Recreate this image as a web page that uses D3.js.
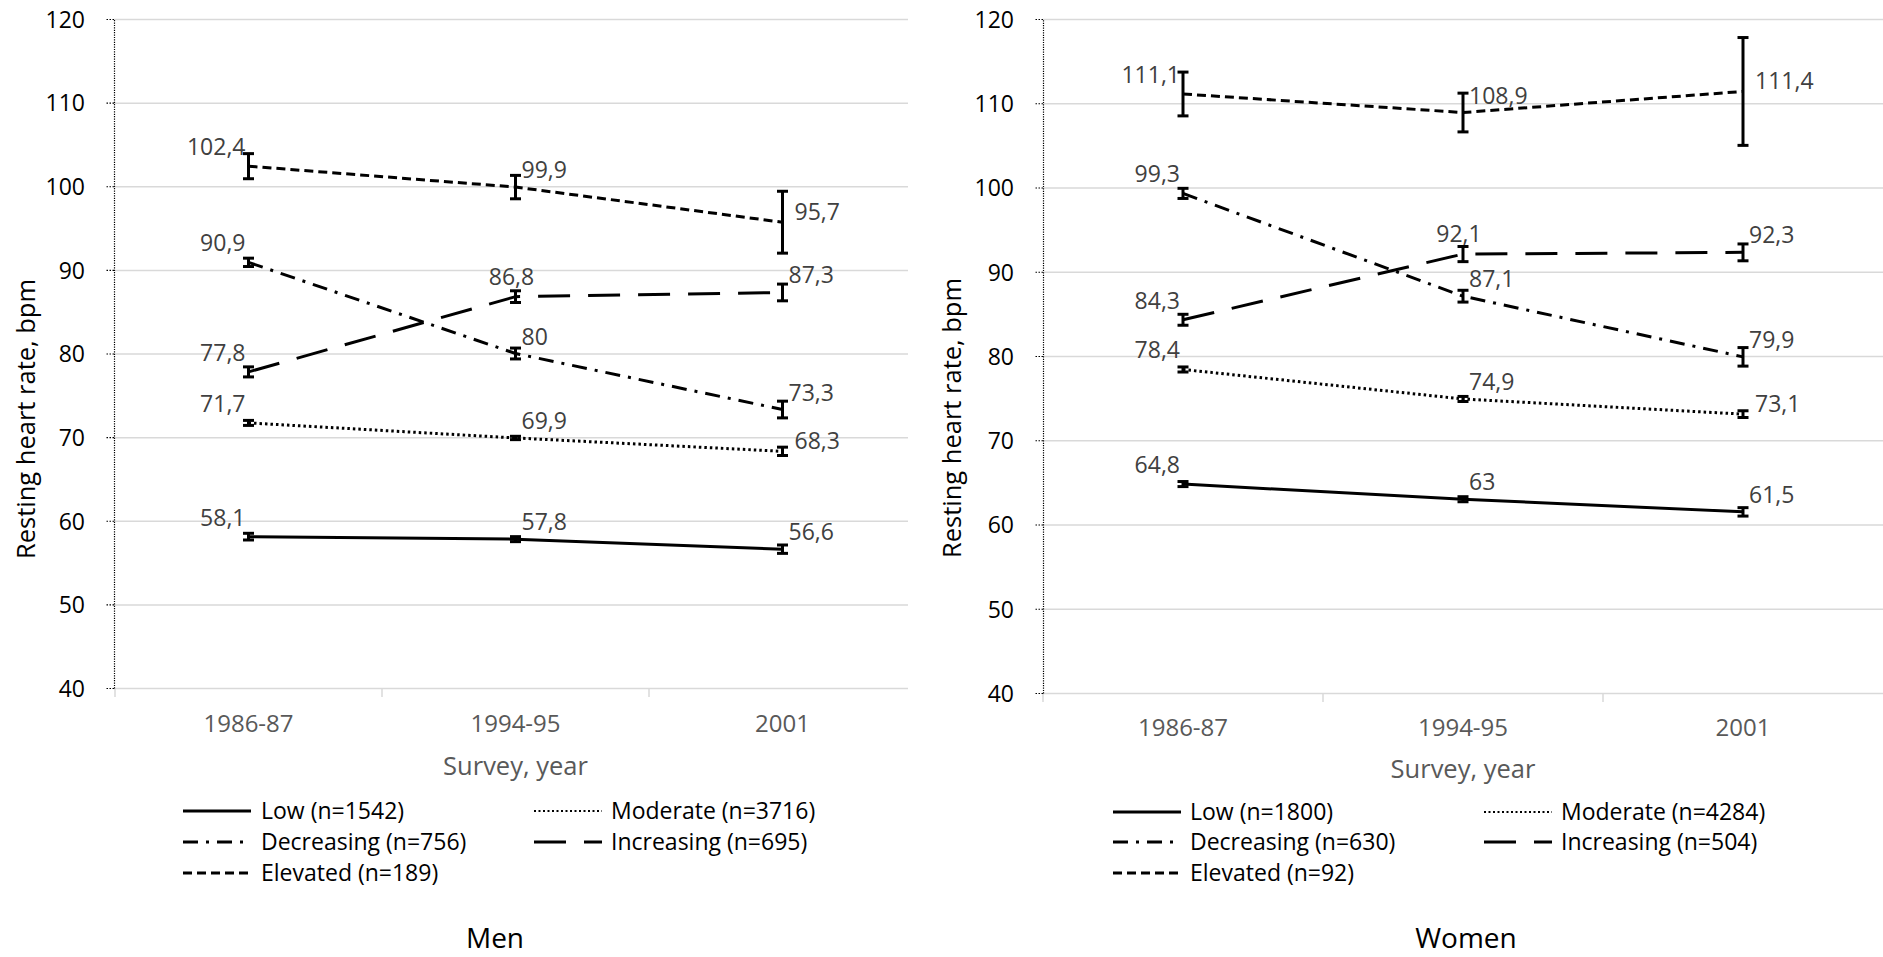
<!DOCTYPE html>
<html>
<head>
<meta charset="utf-8">
<script src="https://cdn.jsdelivr.net/npm/d3@7"></script>
<style>
  body { margin: 0; background: #fff; }
  svg { display: block; }
</style>
</head>
<body>
<div id="chart"></div>
<script>
// categories
const surveys = ["1986-87", "1994-95", "2001"];
const groups = ["Low", "Moderate", "Decreasing", "Increasing", "Elevated"];
const yTicks = [40, 50, 60, 70, 80, 90, 100, 110, 120];

// men
const menN = [1542, 3716, 756, 695, 189];
const menMeans = [
  [58.1, 57.8, 56.6],
  [71.7, 69.9, 68.3],
  [90.9, 80, 73.3],
  [77.8, 86.8, 87.3],
  [102.4, 99.9, 95.7]
];
const menErrors = [
  [0.4, 0.3, 0.5],
  [0.3, 0.2, 0.5],
  [0.5, 0.65, 1.0],
  [0.6, 0.7, 1.0],
  [1.5, 1.4, 3.7]
];
const menLabelPos = [
  ["nw", "ne", "ne"],
  ["nw", "ne", "e"],
  ["nw", "ne", "ne"],
  ["nw", "n", "ne"],
  ["nw", "ne", "e"]
];

// women
const womenN = [1800, 4284, 630, 504, 92];
const womenMeans = [
  [64.8, 63, 61.5],
  [78.4, 74.9, 73.1],
  [99.3, 87.1, 79.9],
  [84.3, 92.1, 92.3],
  [111.1, 108.9, 111.4]
];
const womenErrors = [
  [0.3, 0.3, 0.5],
  [0.3, 0.3, 0.4],
  [0.6, 0.7, 1.1],
  [0.65, 0.9, 1.0],
  [2.6, 2.3, 6.4]
];
const womenLabelPos = [
  ["nw", "ne", "ne"],
  ["nw", "ne", "e"],
  ["nw", "ne", "ne"],
  ["nw", "n", "ne"],
  ["nw", "ne", "e"]
];

const font = "'Open Sans', 'DejaVu Sans', sans-serif";
const dashes = {
  Low: null,
  Moderate: "2.5 3",
  Decreasing: "15 8 3 8",
  Increasing: "32 18",
  Elevated: "9 5"
};
const labelOffsets = {
  nw: { anchor: "end", dx: -3, dy: -11 },
  ne: { anchor: "start", dx: 6, dy: -9 },
  e: { anchor: "start", dx: 12, dy: -2 },
  n: { anchor: "middle", dx: -4, dy: -12 }
};

const width = 1883, height = 957;
const svg = d3.select("#chart").append("svg")
  .attr("width", width)
  .attr("height", height)
  .attr("font-family", font);

function fmt(v) {
  return String(v).replace(".", ",");
}

function drawPanel(p) {
  const x = d3.scaleBand().domain(surveys).range(p.xRange);
  const y = d3.scaleLinear().domain([40, 120]).range(p.yRange);
  const cx = (d) => x(d) + x.bandwidth() / 2;
  const g = svg.append("g");

  // gridlines
  g.append("g")
    .attr("transform", `translate(${p.axisX},0)`)
    .call(d3.axisLeft(y).tickValues(yTicks).tickSize(-(p.gridEnd - p.axisX)).tickFormat(""))
    .call((s) => s.select(".domain").remove())
    .selectAll("line")
    .attr("stroke", "#d9d9d9")
    .attr("stroke-width", 1.5);

  // x category boundary ticks
  const bounds = d3.range(surveys.length).map((i) => p.xRange[0] + i * x.step());
  g.append("g").selectAll("line").data(bounds).join("line")
    .attr("x1", (d) => d).attr("x2", (d) => d)
    .attr("y1", y(40)).attr("y2", y(40) + 9)
    .attr("stroke", "#d9d9d9").attr("stroke-width", 1.5);

  // y axis
  const ya = g.append("g")
    .attr("transform", `translate(${p.axisX},0)`)
    .call(d3.axisLeft(y).tickValues(yTicks).tickSize(8).tickPadding(21).tickSizeOuter(0));
  ya.select(".domain").attr("stroke", "#000").attr("stroke-width", 1.2).attr("stroke-dasharray", "1.2 1.2");
  ya.selectAll(".tick line").attr("stroke", "#000").attr("stroke-width", 1.2).attr("stroke-dasharray", "1.5 1.5");
  ya.selectAll(".tick text")
    .attr("font-family", font).attr("font-size", 23).attr("fill", "#000")
    .attr("dy", "0.36em");

  // x axis labels
  g.append("g").selectAll("text").data(surveys).join("text")
    .attr("x", cx).attr("y", p.catY)
    .attr("text-anchor", "middle")
    .attr("font-size", 24).attr("fill", "#595959")
    .text((d) => d);

  // titles
  g.append("text")
    .attr("transform", `translate(${p.yTitleX},${p.yTitleY}) rotate(-90)`)
    .attr("text-anchor", "middle").attr("dy", "0.35em")
    .attr("font-size", 25.5).attr("fill", "#000")
    .text("Resting heart rate, bpm");
  g.append("text")
    .attr("x", (p.xRange[0] + p.xRange[1]) / 2).attr("y", p.xTitleY)
    .attr("text-anchor", "middle")
    .attr("font-size", 25.5).attr("fill", "#595959")
    .text("Survey, year");
  g.append("text")
    .attr("x", p.titleX).attr("y", p.titleY)
    .attr("text-anchor", "middle")
    .attr("font-size", 28).attr("fill", "#000")
    .text(p.title);

  // series lines
  const line = d3.line()
    .x((d, i) => cx(surveys[i]))
    .y((d) => y(d));
  g.append("g").selectAll("path").data(p.means).join("path")
    .attr("d", line)
    .attr("fill", "none")
    .attr("stroke", "#000")
    .attr("stroke-width", 3)
    .attr("stroke-dasharray", (d, i) => dashes[groups[i]]);

  // error bars
  const bars = [];
  p.means.forEach((row, gi) => row.forEach((v, si) => {
    bars.push({ x: cx(surveys[si]), lo: v - p.errors[gi][si], hi: v + p.errors[gi][si] });
  }));
  const eb = g.append("g").attr("stroke", "#000").attr("stroke-width", 3);
  eb.selectAll("line.v").data(bars).join("line").attr("class", "v")
    .attr("x1", (d) => d.x).attr("x2", (d) => d.x)
    .attr("y1", (d) => y(d.lo)).attr("y2", (d) => y(d.hi));
  eb.selectAll("line.lo").data(bars).join("line").attr("class", "lo")
    .attr("x1", (d) => d.x - 5.5).attr("x2", (d) => d.x + 5.5)
    .attr("y1", (d) => y(d.lo)).attr("y2", (d) => y(d.lo));
  eb.selectAll("line.hi").data(bars).join("line").attr("class", "hi")
    .attr("x1", (d) => d.x - 5.5).attr("x2", (d) => d.x + 5.5)
    .attr("y1", (d) => y(d.hi)).attr("y2", (d) => y(d.hi));

  // data labels
  const labels = [];
  p.means.forEach((row, gi) => row.forEach((v, si) => {
    const o = labelOffsets[p.labelPos[gi][si]];
    labels.push({ x: cx(surveys[si]) + o.dx, y: y(v) + o.dy, anchor: o.anchor, text: fmt(v) });
  }));
  g.append("g").selectAll("text").data(labels).join("text")
    .attr("x", (d) => d.x).attr("y", (d) => d.y)
    .attr("text-anchor", (d) => d.anchor)
    .attr("font-size", 23).attr("fill", "#404040")
    .text((d) => d.text);

  // legend
  const leg = g.append("g");
  groups.forEach((name, i) => {
    const col = i % 2, row = Math.floor(i / 2);
    const ly = p.legRows[row];
    leg.append("line")
      .attr("x1", p.legLine[col]).attr("x2", p.legLine[col] + 68)
      .attr("y1", ly).attr("y2", ly)
      .attr("stroke", "#000").attr("stroke-width", name === "Moderate" ? 2 : 3)
      .attr("stroke-dasharray", name === "Moderate" ? "2 2.5" : dashes[name]);
    leg.append("text")
      .attr("x", p.legText[col]).attr("y", ly).attr("dy", "0.36em")
      .attr("font-size", 23).attr("fill", "#000")
      .text(`${name} (n=${p.n[i]})`);
  });
}

drawPanel({
  title: "Men", n: menN, means: menMeans, errors: menErrors, labelPos: menLabelPos,
  xRange: [115, 916], yRange: [688, 19], axisX: 114, gridEnd: 908,
  yTitleX: 26, yTitleY: 419, catY: 732, xTitleY: 775,
  legLine: [183, 534], legText: [261, 611], legRows: [811, 842, 873],
  titleX: 495, titleY: 948
});

drawPanel({
  title: "Women", n: womenN, means: womenMeans, errors: womenErrors, labelPos: womenLabelPos,
  xRange: [1043, 1883], yRange: [693, 19], axisX: 1043, gridEnd: 1883,
  yTitleX: 952, yTitleY: 418, catY: 736, xTitleY: 778,
  legLine: [1113, 1484], legText: [1190, 1561], legRows: [812, 842, 873],
  titleX: 1466, titleY: 948
});
</script>
</body>
</html>
